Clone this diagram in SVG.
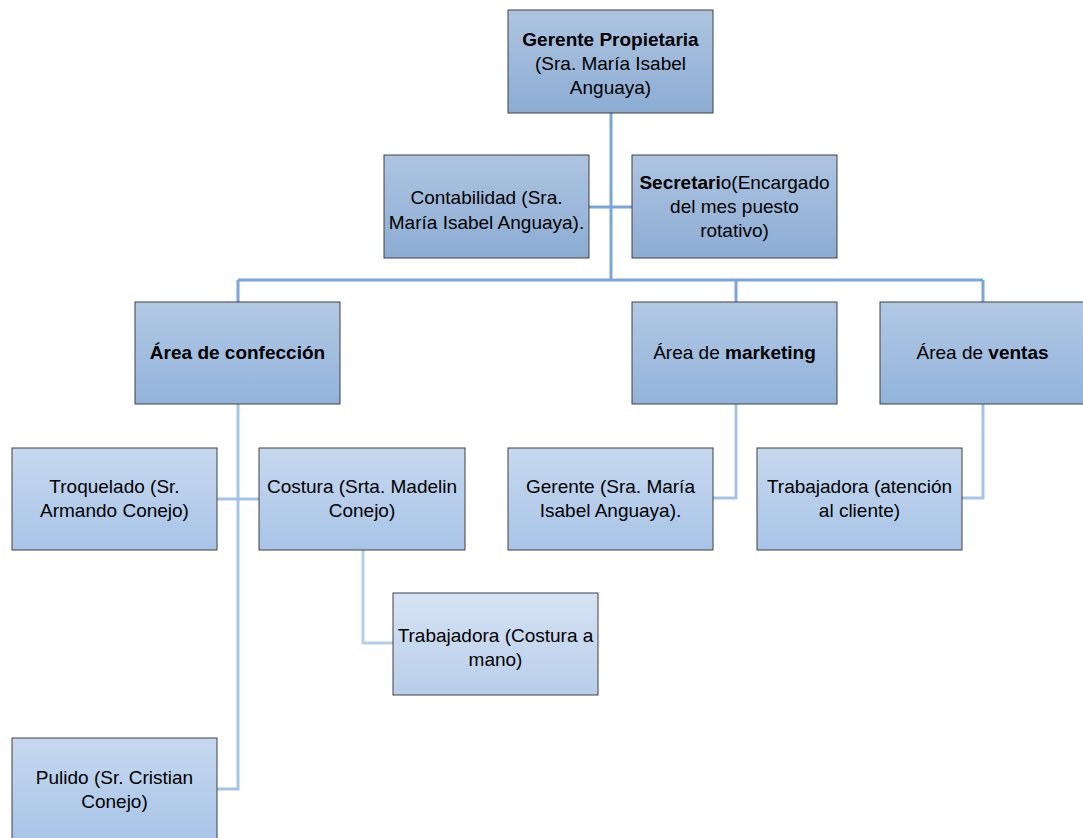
<svg xmlns="http://www.w3.org/2000/svg" width="1083" height="838" viewBox="0 0 1083 838">
<defs>
<linearGradient id="g1" x1="0" y1="0" x2="0" y2="1"><stop offset="0" stop-color="#aec4e1"/><stop offset="1" stop-color="#8cacd3"/></linearGradient>
<linearGradient id="g2" x1="0" y1="0" x2="0" y2="1"><stop offset="0" stop-color="#b2c8e5"/><stop offset="1" stop-color="#92b3da"/></linearGradient>
<linearGradient id="g3" x1="0" y1="0" x2="0" y2="1"><stop offset="0" stop-color="#c6d8ef"/><stop offset="1" stop-color="#a8c4e7"/></linearGradient>
<linearGradient id="g4" x1="0" y1="0" x2="0" y2="1"><stop offset="0" stop-color="#d6e3f4"/><stop offset="1" stop-color="#b8cee9"/></linearGradient>
</defs>
<style>
rect{stroke:#404040;stroke-width:1}
text{font-family:"Liberation Sans",Arial,sans-serif;font-size:19px;fill:#000;text-anchor:middle}
.b{font-weight:bold}
.c1{stroke:#7ba6da;stroke-width:3;fill:none}
.c2{stroke:#a6c3e8;stroke-width:3;fill:none}
.c3{stroke:#b6cdea;stroke-width:3;fill:none}
</style>
<g id="connectors">
<path class="c1" d="M611 113V280M589 207H632M238 280H983M238 280V302M736 280V302M983 280V302"/>
<path class="c2" d="M238 404V789H217M217 499H259M736 404V498H713M983 404V498H962"/>
<path class="c3" d="M363 550V643H393"/>
</g>
<g id="gerente">
<rect x="508" y="10" width="205" height="103" fill="url(#g1)"/>
<text x="610.5" y="46" class="b">Gerente Propietaria</text>
<text x="610.5" y="70">(Sra. María Isabel</text>
<text x="610.5" y="94">Anguaya)</text>
</g>
<g id="contabilidad">
<rect x="384" y="155" width="205" height="103" fill="url(#g1)"/>
<text x="486.5" y="204">Contabilidad (Sra.</text>
<text x="486.5" y="229">María Isabel Anguaya).</text>
</g>
<g id="secretario">
<rect x="632" y="155" width="205" height="103" fill="url(#g1)"/>
<text x="734.5" y="189"><tspan class="b">Secretari</tspan>o(Encargado</text>
<text x="734.5" y="213">del mes puesto</text>
<text x="734.5" y="237">rotativo)</text>
</g>
<g id="confeccion">
<rect x="135" y="302" width="205" height="102" fill="url(#g2)"/>
<text x="237.5" y="359" class="b">Área de confección</text>
</g>
<g id="marketing">
<rect x="632" y="302" width="205" height="102" fill="url(#g2)"/>
<text x="734.5" y="359">Área de <tspan class="b">marketing</tspan></text>
</g>
<g id="ventas">
<rect x="880" y="302" width="205" height="102" fill="url(#g2)"/>
<text x="982.5" y="359">Área de <tspan class="b">ventas</tspan></text>
</g>
<g id="troquelado">
<rect x="12" y="448" width="205" height="102" fill="url(#g3)"/>
<text x="114.5" y="493">Troquelado (Sr.</text>
<text x="114.5" y="517">Armando Conejo)</text>
</g>
<g id="costura">
<rect x="259" y="448" width="206" height="102" fill="url(#g3)"/>
<text x="362" y="493">Costura (Srta. Madelin</text>
<text x="362" y="517">Conejo)</text>
</g>
<g id="gerente-marketing">
<rect x="508" y="448" width="205" height="102" fill="url(#g3)"/>
<text x="610.5" y="493">Gerente (Sra. María</text>
<text x="610.5" y="517">Isabel Anguaya).</text>
</g>
<g id="trabajadora-ventas">
<rect x="757" y="448" width="205" height="102" fill="url(#g3)"/>
<text x="859.5" y="493">Trabajadora (atención</text>
<text x="859.5" y="517">al cliente)</text>
</g>
<g id="trabajadora-costura">
<rect x="393" y="593" width="205" height="102" fill="url(#g4)"/>
<text x="495.5" y="642">Trabajadora (Costura a</text>
<text x="495.5" y="666">mano)</text>
</g>
<g id="pulido">
<rect x="12" y="738" width="205" height="102" fill="url(#g3)"/>
<text x="114.5" y="784">Pulido (Sr. Cristian</text>
<text x="114.5" y="808">Conejo)</text>
</g>
</svg>
